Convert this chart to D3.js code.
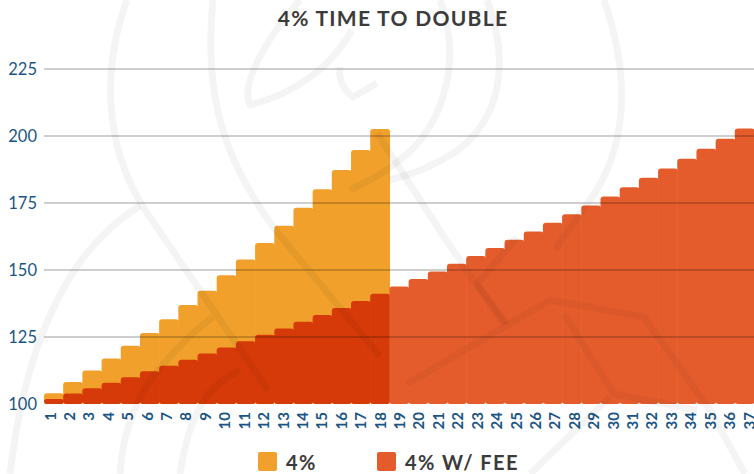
<!DOCTYPE html>
<html>
<head>
<meta charset="utf-8">
<script src="https://cdn.jsdelivr.net/npm/d3@7"></script>
<style>
  html, body { margin: 0; padding: 0; background: #fff; }
  svg { display: block; font-family: Lato, "Open Sans", sans-serif; }
</style>
</head>
<body>
<svg id="chart" width="754" height="474"></svg>
<script>
// periods on the x axis
const periods = d3.range(1, 38).map(String);

// 4% growth
const plain = [104.0, 108.2, 112.5, 117.0, 121.7, 126.5, 131.6, 136.9, 142.3,
    148.0, 153.9, 160.1, 166.5, 173.2, 180.1, 187.3, 194.8, 202.6];

// 4% with fee
const withFee = [101.9, 103.9, 105.9, 107.9, 110.0, 112.2, 114.3, 116.5, 118.8,
    121.1, 123.4, 125.8, 128.2, 130.7, 133.2, 135.8, 138.4, 141.1, 143.8,
    146.6, 149.4, 152.3, 155.2, 158.2, 161.3, 164.4, 167.6, 170.8, 174.1,
    177.4, 180.9, 184.4, 187.9, 191.5, 195.2, 199.0, 202.8];

const yTicks = [125, 150, 175, 200, 225];
const seriesNames = ['4%', '4% W/ FEE'];

const O = {
    left: 44,
    right: 754,
    baseY: 404,
    topY: 69,
    orange: '#f0a02b',
    red: '#e55c2c',
    redUnder: '#d63a08',
    axisText: '#1b5585',
    title: '#3b3b3b'
};

const svg = d3.select('#chart');

const x = d3.scaleBand().domain(periods).range([O.left, O.right]).padding(0);
const xLabel = d3.scalePoint().domain(periods).range([50, 749]);
const y = d3.scaleLinear().domain([100, 225]).range([O.baseY, O.topY]);

// title
svg.append('text')
    .attr('x', 393)
    .attr('y', 26)
    .attr('text-anchor', 'middle')
    .attr('font-size', 21)
    .attr('font-weight', 700)
    .attr('letter-spacing', 1.3)
    .attr('fill', O.title)
    .text('4% TIME TO DOUBLE');

const bars = svg.append('g');

// orange series, behind
bars.selectAll('.plain')
    .data(plain)
    .join('rect')
    .attr('class', 'plain')
    .attr('x', (d, i) => x(periods[i]))
    .attr('y', d => y(d))
    .attr('width', x.bandwidth() + 0.6)
    .attr('height', d => y(100) - y(d))
    .attr('rx', 3)
    .attr('fill', O.orange);

// red series, in front; darker where it sits over the orange
bars.selectAll('.fee')
    .data(withFee)
    .join('rect')
    .attr('class', 'fee')
    .attr('x', (d, i) => x(periods[i]))
    .attr('y', d => y(d))
    .attr('width', x.bandwidth() + 0.6)
    .attr('height', d => y(100) - y(d))
    .attr('rx', 3)
    .attr('fill', (d, i) => i < plain.length ? O.redUnder : O.red);

// grid on top of the bars, see-through
svg.append('g')
    .selectAll('line')
    .data(yTicks)
    .join('line')
    .attr('x1', O.left)
    .attr('x2', O.right)
    .attr('y1', d => y(d))
    .attr('y2', d => y(d))
    .attr('stroke', '#000')
    .attr('stroke-opacity', 0.19)
    .attr('stroke-width', 2.2);

// y labels
svg.append('g')
    .selectAll('text')
    .data([100].concat(yTicks))
    .join('text')
    .attr('x', 37)
    .attr('y', d => y(d) + 6)
    .attr('text-anchor', 'end')
    .attr('font-size', 16.5)
    .attr('fill', O.axisText)
    .text(d => d);

// x labels, turned to read upward
svg.append('g')
    .selectAll('text')
    .data(periods)
    .join('text')
    .attr('transform', d => `translate(${xLabel(d) + 5.5}, 412) rotate(-90)`)
    .attr('text-anchor', 'end')
    .attr('font-size', 15)
    .attr('font-weight', 700)
    .attr('fill', O.axisText)
    .text(d => d);

// legend
const legend = svg.append('g');
const legendX = [258, 377];
const legendColors = [O.orange, O.red];
seriesNames.forEach((name, i) => {
    legend.append('rect')
        .attr('x', legendX[i])
        .attr('y', 452)
        .attr('width', 19)
        .attr('height', 19)
        .attr('rx', 2)
        .attr('fill', legendColors[i]);
    legend.append('text')
        .attr('x', legendX[i] + 28)
        .attr('y', 470)
        .attr('font-size', 20)
        .attr('font-weight', 700)
        .attr('letter-spacing', 1.4)
        .attr('fill', O.title)
        .text(name);
});

// faint logo watermark over everything
const mark = [
    'M127,0 C105,60 100,140 145,210 L268,390',
    'M213,0 C205,80 215,150 277,232 L380,356',
    'M10,474 C20,390 40,320 80,262 C100,235 120,218 140,206',
    'M120,474 C122,430 140,390 160,368 C175,350 195,330 213,317',
    'M180,474 C185,440 195,410 210,392 C220,382 230,375 240,370',
    'M300,0 C265,40 240,85 250,105 C290,95 330,70 352,30',
    'M340,67 C338,80 345,92 353,97 L377,83',
    'M604,0 C632,80 626,150 590,200 C575,220 565,235 555,250',
    'M487,0 C510,60 502,120 454,153 C430,168 410,175 390,180',
    'M440,0 C462,60 445,125 400,160 C385,172 368,182 350,190',
    'M377,133 L444,237 L504,324',
    'M407,384 L550,300 L644,317 L710,410 L745,474',
    'M564,314 L614,394 L697,410',
    'M517,237 L477,284 L507,324',
    'M530,474 L610,397'
];
svg.append('g')
    .selectAll('path')
    .data(mark)
    .join('path')
    .attr('d', d => d)
    .attr('fill', 'none')
    .attr('stroke', '#000')
    .attr('stroke-opacity', 0.045)
    .attr('stroke-width', 7)
    .attr('stroke-linejoin', 'round');
</script>
</body>
</html>
